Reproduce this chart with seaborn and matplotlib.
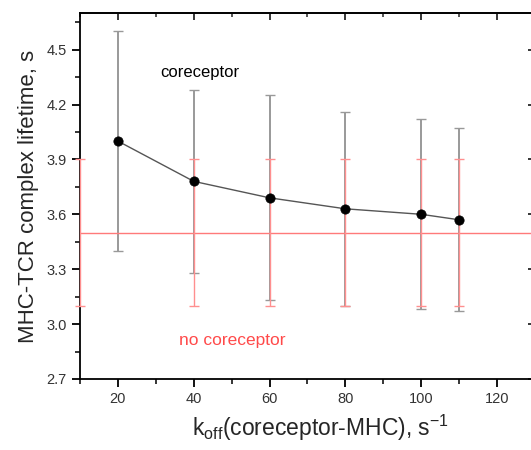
import matplotlib
matplotlib.use("Agg")
import matplotlib.pyplot as plt
from matplotlib.ticker import MultipleLocator
import numpy as np
import pandas as pd
import seaborn as sns

# Mean MHC-TCR complex lifetime with coreceptor, vs coreceptor-MHC off-rate
koff = [20, 40, 60, 80, 100, 110]
lifetime = [4.00, 3.78, 3.69, 3.63, 3.60, 3.57]
lifetime_err = [0.60, 0.50, 0.56, 0.53, 0.52, 0.50]

# Lifetime without coreceptor (constant level with its spread)
koff_nocor = [10, 40, 60, 80, 100, 110]
nocor_level = 3.5
nocor_err = 0.4

x_ticks = [20, 40, 60, 80, 100, 120]
y_ticks = [2.7, 3.0, 3.3, 3.6, 3.9, 4.2, 4.5]

df = pd.DataFrame({"koff": koff, "lifetime": lifetime})

sns.set_style("white")
plt.rcParams["font.family"] = ["Liberation Sans", "DejaVu Sans"]
plt.rcParams["mathtext.fontset"] = "custom"
plt.rcParams["mathtext.rm"] = "Liberation Sans"
plt.rcParams["mathtext.it"] = "Liberation Sans:italic"

W, H = 531, 450
fig = plt.figure(figsize=(W / 100, H / 100), dpi=100)
ax = fig.add_axes([80 / W, (H - 379) / H, 455 / W, 366 / H])

red = "#ff8f8f"
grey = "#999999"

# coreceptor spread
ax.errorbar(koff, lifetime, yerr=lifetime_err, fmt="none", ecolor=grey,
            elinewidth=1.4, capsize=3.5, capthick=1.0, zorder=2)

# no-coreceptor level and spread
ax.axhline(nocor_level, color="#ff7a7a", lw=1.0, zorder=3)
ax.errorbar(koff_nocor, [nocor_level] * len(koff_nocor), yerr=nocor_err,
            fmt="none", ecolor=red, elinewidth=1.0, capsize=3.5,
            capthick=1.0, zorder=3, clip_on=False)

sns.lineplot(data=df, x="koff", y="lifetime", ax=ax, color="#555555",
             lw=1.0, zorder=4)
sns.scatterplot(data=df, x="koff", y="lifetime", ax=ax, color="black",
                s=45, edgecolor="black", linewidth=0.5, zorder=5)

ax.set_xlim(10, 130)
ax.set_ylim(2.7, 4.7)
ax.set_xticks(x_ticks)
ax.set_yticks(y_ticks)
ax.set_yticklabels([f"{v:.1f}" for v in y_ticks])
ax.xaxis.set_minor_locator(MultipleLocator(10))
ax.yaxis.set_minor_locator(MultipleLocator(0.15))

for side in ["left", "right", "top", "bottom"]:
    ax.spines[side].set_visible(True)
    ax.spines[side].set_color("black")
    ax.spines[side].set_linewidth(1.3)

ax.tick_params(which="both", direction="out", colors="black",
               labelcolor="#333333", labelsize=10.5, top=False, right=False)
ax.tick_params(which="major", length=6, width=1.3)
ax.tick_params(which="minor", length=3.5, width=1.1)
ax.tick_params(axis="x", which="both", bottom=True)
ax.tick_params(axis="y", which="both", left=True)

# mirrored inward ticks on top and right
ax2 = ax.secondary_xaxis("top")
ax2.set_xticks(x_ticks)
ax2.xaxis.set_minor_locator(MultipleLocator(10))
ax2.tick_params(which="both", direction="in", labeltop=False)
ax2.tick_params(which="major", length=5, width=1.3)
ax2.tick_params(which="minor", length=3, width=1.1)
ax2.spines["top"].set_linewidth(1.3)
ax3 = ax.secondary_yaxis("right")
ax3.set_yticks(y_ticks)
ax3.yaxis.set_minor_locator(MultipleLocator(0.15))
ax3.tick_params(which="both", direction="in", labelright=False)
ax3.tick_params(which="major", length=5, width=1.3)
ax3.tick_params(which="minor", length=3, width=1.1)

ax.set_ylabel("MHC-TCR complex lifetime, s", fontsize=16, labelpad=5)
ax.set_xlabel("")
fig.text(320 / W, 1 - 428 / H,
         r"k$_{\rm off}$(coreceptor-MHC), $\rm s^{-1}$",
         ha="center", va="center", fontsize=16.5)

fig.text(200 / W, 1 - 72 / H, "coreceptor",
         ha="center", va="center", fontsize=12, color="black")
fig.text(232 / W, 1 - 340 / H, "no coreceptor",
         ha="center", va="center", fontsize=12.5, color="#ff4a4a")

fig.savefig("out.png", dpi=100)
